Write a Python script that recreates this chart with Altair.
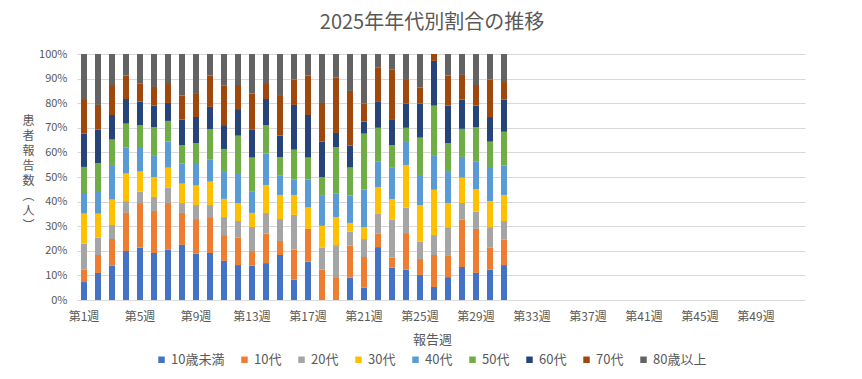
import altair as alt
import pandas as pd

weeks = [f"第{i}週" for i in range(1, 53)]
tick_weeks = ["第1週", "第5週", "第9週", "第13週", "第17週", "第21週", "第25週",
              "第29週", "第33週", "第37週", "第41週", "第45週", "第49週"]
categories = ["10歳未満", "10代", "20代", "30代", "40代", "50代", "60代", "70代", "80歳以上"]
colors = ["#4472C4", "#ED7D31", "#A5A5A5", "#FFC000", "#5B9BD5",
          "#70AD47", "#264478", "#9E480E", "#636363"]

u10 = [7.3, 11.0, 14.0, 19.9, 21.3, 19.1, 20.5, 22.4, 18.8, 19.1, 15.9, 14.2, 14.0, 15.0, 18.3, 8.3,
       15.6, 0, 0, 9.1, 5.0, 21.5, 13.1, 12.3, 10.2, 5.3, 9.3, 13.4, 11.0, 12.3, 14.2]
a10 = [5.0, 7.3, 10.8, 15.5, 18.1, 17.1, 18.9, 13.0, 14.1, 14.6, 10.5, 11.1, 5.9, 12.0, 5.7, 12.2,
       13.3, 12.3, 9.3, 13.0, 12.5, 5.4, 4.1, 14.9, 6.5, 13.0, 8.9, 19.2, 17.9, 8.9, 10.3]
a20 = [10.6, 7.0, 5.7, 4.8, 4.6, 5.7, 6.3, 4.0, 5.7, 4.9, 7.3, 6.8, 9.8, 8.4, 8.9, 14.1,
       0, 8.9, 13.0, 5.7, 7.3, 8.1, 15.4, 10.3, 7.0, 8.1, 11.4, 6.8, 7.0, 8.4, 7.6]
a30 = [12.2, 9.8, 10.3, 11.2, 8.2, 8.1, 8.1, 7.9, 7.9, 9.5, 7.4, 7.3, 5.7, 11.3, 9.8, 8.1,
       8.7, 8.9, 11.4, 3.5, 4.9, 10.8, 8.4, 17.3, 14.9, 18.4, 9.8, 10.3, 9.2, 10.6, 10.6]
a40 = [8.4, 9.2, 14.1, 10.5, 10.0, 8.9, 10.6, 8.1, 9.2, 8.9, 11.3, 12.2, 8.6, 12.8, 7.8, 6.2,
       11.4, 12.5, 9.5, 11.1, 15.2, 10.6, 13.0, 9.8, 12.2, 14.1, 13.0, 8.4, 11.1, 13.8, 11.9]
a50 = [10.6, 11.4, 10.3, 9.8, 8.9, 11.4, 8.4, 7.6, 8.1, 12.5, 9.0, 15.2, 13.9, 11.6, 7.6, 12.2,
       8.9, 7.3, 19.0, 11.4, 22.8, 13.6, 8.9, 5.4, 15.2, 20.1, 11.4, 11.4, 14.1, 10.3, 13.8]
a60 = [13.5, 13.5, 10.0, 10.0, 9.5, 8.7, 7.3, 10.3, 10.6, 9.0, 9.7, 10.8, 11.3, 10.6, 8.7, 18.2,
       17.3, 14.4, 5.7, 8.9, 4.9, 10.8, 10.6, 9.8, 13.8, 18.2, 15.2, 11.9, 8.7, 10.0, 13.0]
a70 = [14.1, 10.1, 12.2, 9.5, 7.3, 7.6, 8.1, 9.8, 9.7, 12.7, 16.0, 9.8, 14.7, 6.5, 16.5, 10.3,
       16.0, 15.7, 22.5, 22.2, 7.3, 13.6, 20.1, 10.0, 6.5, 2.8, 12.2, 10.0, 8.4, 15.2, 7.6]
a80 = [18.3, 20.7, 12.6, 8.8, 12.1, 13.4, 11.8, 16.9, 15.9, 8.8, 12.9, 12.6, 16.1, 11.8, 16.7, 10.4,
       8.8, 19.9, 9.6, 15.0, 20.2, 5.6, 6.4, 10.2, 13.7, 0, 8.8, 8.5, 12.6, 10.4, 11.0]

series = [u10, a10, a20, a30, a40, a50, a60, a70, a80]
rows = []
for ci, (cat, vals) in enumerate(zip(categories, series)):
    for wi, v in enumerate(vals):
        rows.append({"週": weeks[wi], "年代": cat, "値": v, "順": ci})
df = pd.DataFrame(rows)

FONT = "Noto Sans CJK JP"
GRAY = "#595959"
ytitle = ["患", "者", "報", "告", "数", "︵", "人", "︶"]

chart = alt.Chart(df).mark_bar().encode(
    x=alt.X("週:O",
            scale=alt.Scale(domain=weeks, paddingInner=0.57, paddingOuter=0.285),
            sort=weeks,
            axis=alt.Axis(values=tick_weeks, labelAngle=0, ticks=False, domain=False,
                          labelFontSize=12, labelColor=GRAY, labelFont=FONT, labelPadding=11,
                          title="報告週", titleFont=FONT, titleFontSize=13, titleColor=GRAY,
                          titleFontWeight="normal", titleX=355, titleY=39,
                          titleBaseline="middle", titleAnchor="start", titleAlign="center")),
    y=alt.Y("値:Q", stack="normalize",
            scale=alt.Scale(domain=[0, 1]),
            axis=alt.Axis(format=".0%", values=[i / 10 for i in range(11)], ticks=False,
                          domain=False, gridColor="#D9D9D9", gridWidth=1,
                          labelFontSize=11, labelColor=GRAY, labelFont=FONT, labelPadding=10,
                          title=ytitle, titleAngle=0, titleFont=FONT, titleFontSize=12,
                          titleColor=GRAY, titleFontWeight="normal", titleX=-49, titleY=61,
                          titleBaseline="top", titleAlign="center", titleAnchor="start",
                          titleLineHeight=15)),
    color=alt.Color("年代:N", scale=alt.Scale(domain=categories, range=colors),
                    sort=categories,
                    legend=alt.Legend(orient="none", legendX=78, legendY=299,
                                      direction="horizontal", columns=9, title=None,
                                      symbolType="square", symbolSize=42,
                                      symbolStrokeWidth=0, labelFont=FONT,
                                      labelFontSize=13, labelColor=GRAY,
                                      labelOffset=3, columnPadding=13)),
    order=alt.Order("順:Q", sort="ascending"),
).properties(
    width=728, height=246,
    title=alt.Title("2025年年代別割合の推移", font=FONT, fontSize=20, color=GRAY,
                    fontWeight="normal", anchor="middle", offset=15, dx=-9),
    padding={"left": 69, "top": 46, "right": 49, "bottom": 70},
    autosize=alt.AutoSizeParams(type="none"),
).configure_view(stroke=None)

chart.save("out.html", embed_options={"renderer": "svg", "actions": False})
